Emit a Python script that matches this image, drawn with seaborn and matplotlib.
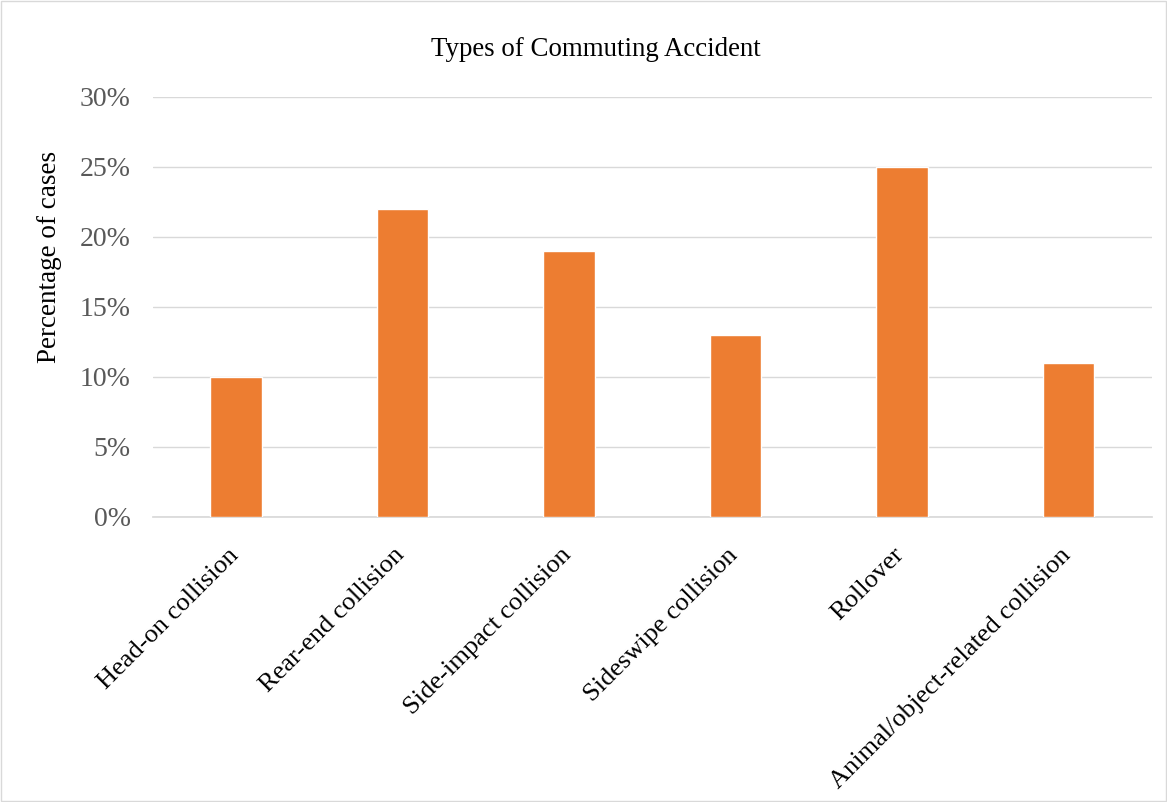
import matplotlib
matplotlib.use("Agg")
import matplotlib.pyplot as plt
import seaborn as sns
import pandas as pd
from matplotlib.patches import Rectangle
from matplotlib.ticker import PercentFormatter
from matplotlib.transforms import ScaledTranslation

categories = ["Head-on collision", "Rear-end collision", "Side-impact collision",
              "Sideswipe collision", "Rollover", "Animal/object-related collision"]
values = [10, 22, 19, 13, 25, 11]
yticks = [0, 5, 10, 15, 20, 25, 30]

sns.set_theme(style="white")
plt.rcParams['font.family'] = ['Liberation Serif', 'DejaVu Serif']

df = pd.DataFrame({"cat": categories, "val": values})

fig = plt.figure(figsize=(11.67, 8.02), dpi=100)
ax = fig.add_axes([0.131, 0.3554, 0.856, 0.5237])
sns.barplot(data=df, x="cat", y="val", color="#ED7D31", width=0.31, ax=ax,
            saturation=1, zorder=3)
ax.set_xlim(-0.5, 5.5)
ax.set_ylim(0, 30)
ax.set_yticks(yticks)
ax.yaxis.set_major_formatter(PercentFormatter(decimals=0))
ax.grid(axis="y", color="#D9D9D9", linewidth=1, zorder=0)
for s in ["top", "right", "left"]:
    ax.spines[s].set_visible(False)
ax.spines["bottom"].set_color("#D9D9D9")
ax.tick_params(axis="y", labelsize=20, labelcolor="#595959", length=0, pad=16)
ax.tick_params(axis="x", length=0, labelsize=19, labelcolor="black", pad=0)
ax.set_xlabel("")
ax.set_ylabel("Percentage of cases", fontsize=19.5, color="black", va="center")
ax.yaxis.set_label_coords(-0.103, 0.619)
offset = ScaledTranslation(-9 / 100, -27 / 100, fig.dpi_scale_trans)
for lab in ax.get_xticklabels():
    lab.set_rotation(45)
    lab.set_ha("right")
    lab.set_va("top")
    lab.set_rotation_mode("anchor")
    lab.set_transform(lab.get_transform() + offset)
fig.text(596 / 1167, 1 - 50 / 802, "Types of Commuting Accident", fontsize=19.4,
         color="black", ha="center", va="center")

fig.patches.append(Rectangle((0.001, 0.001), 0.998, 0.998, transform=fig.transFigure,
                             fill=False, edgecolor="#D9D9D9", linewidth=1))
fig.savefig("out.png", dpi=100)
